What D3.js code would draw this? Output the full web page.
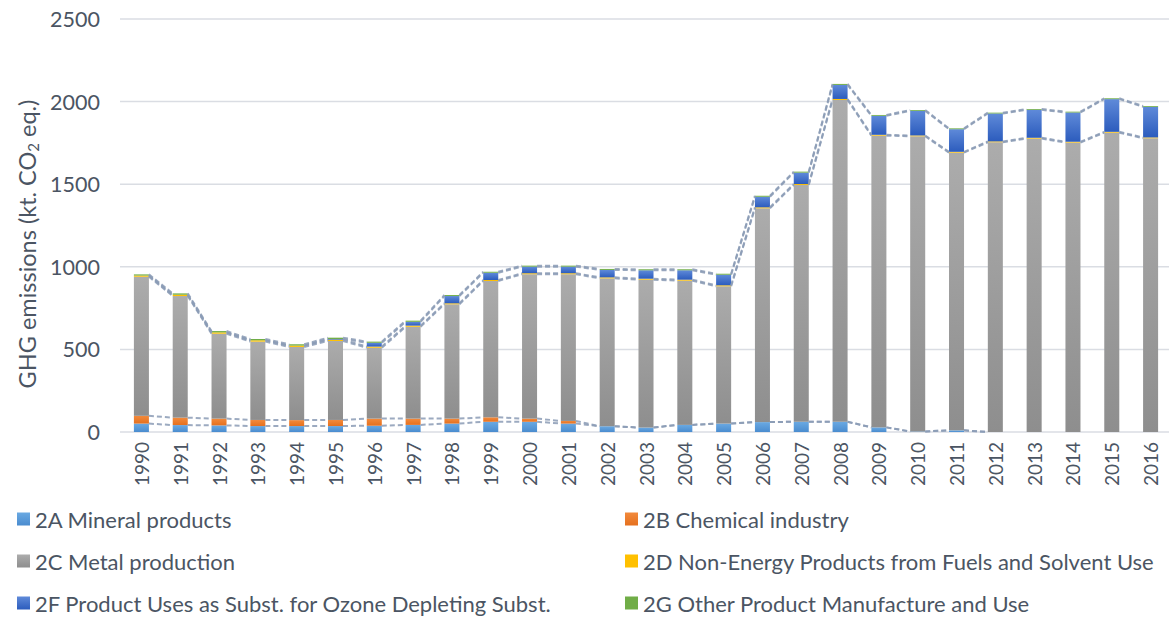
<!DOCTYPE html>
<html>
<head>
<meta charset="utf-8">
<script src="https://cdn.jsdelivr.net/npm/d3@7"></script>
<style>
  html, body { margin: 0; padding: 0; background: #fff; }
  svg { display: block; font-family: Lato, "Open Sans", sans-serif; }
</style>
</head>
<body>
<svg id="chart" width="1169" height="617"></svg>
<script>
const years = d3.range(1990, 2017).map(String);
const mineral   = [51,42,40,36,36,36,38,43,51,62,62,51,35,27,43,51,60,62,62,28,3,10,0,0,0,0,0];
const chemical  = [47,45,41,37,36,37,43,38,30,27,19,16,0,0,0,0,0,0,0,0,0,0,0,0,0,0,0];
const metal     = [842,736,514,474,443,478,429,556,692,825,874,888,895,895,873,831,1294,1433,1948,1766,1787,1681,1754,1776,1752,1812,1778];
const nonEnergy = [7,8,8,8,8,8,7,7,6,6,6,6,6,6,6,6,6,6,6,5,5,5,5,5,5,5,5];
const odsSubst  = [0,0,0,0,0,4,23,23,44,44,40,40,45,51,57,64,64,69,85,115,149,137,169,169,177,198,185];
const otherProd = [7,8,8,8,8,8,7,7,6,6,6,6,6,6,6,6,6,6,6,5,5,5,5,5,5,5,5];
const yTicks = [0, 500, 1000, 1500, 2000, 2500];

const series = [
  { key: "2A", name: "2A Mineral products", values: mineral, c0: "#6aa9e2", c1: "#4a8ccf" },
  { key: "2B", name: "2B Chemical industry", values: chemical, c0: "#f28a3c", c1: "#e5701e" },
  { key: "2C", name: "2C Metal production", values: metal, c0: "#acacac", c1: "#8e8e8e" },
  { key: "2D", name: "2D Non-Energy Products from Fuels and Solvent Use", values: nonEnergy, c0: "#ffc000", c1: "#ffc000" },
  { key: "2F", name: "2F Product Uses as Subst. for Ozone Depleting Subst.", values: odsSubst, c0: "#5f8ad9", c1: "#2c5cbd" },
  { key: "2G", name: "2G Other Product Manufacture and Use", values: otherProd, c0: "#70ad47", c1: "#70ad47" }
];

const svg = d3.select("#chart");
const textColor = "#4b5563";

const rows = years.map((y, i) => {
  const r = { year: y };
  series.forEach(s => { r[s.key] = s.values[i]; });
  return r;
});
const stacked = d3.stack().keys(series.map(s => s.key))(rows);

const x = d3.scaleBand().domain(years).range([122, 1170]).paddingInner(0.613).paddingOuter(0.3065);
const y = d3.scaleLinear().domain([0, 2500]).range([432, 19]);

// gradients
const defs = svg.append("defs");
series.forEach(s => {
  const g = defs.append("linearGradient").attr("id", "g" + s.key)
    .attr("x1", 0).attr("y1", 0).attr("x2", 0).attr("y2", 1);
  g.append("stop").attr("offset", "0%").attr("stop-color", s.c0);
  g.append("stop").attr("offset", "100%").attr("stop-color", s.c1);
});

// gridlines
svg.append("g").selectAll("line").data(yTicks).join("line")
  .attr("x1", 120).attr("x2", 1169)
  .attr("y1", d => y(d)).attr("y2", d => y(d))
  .attr("stroke", "#dadde3").attr("stroke-width", 1.5);

// y tick labels
svg.append("g").selectAll("text").data(yTicks).join("text")
  .attr("x", 100).attr("y", d => y(d))
  .attr("text-anchor", "end").attr("dominant-baseline", "central")
  .attr("font-size", 21.5).attr("fill", textColor)
  .text(d => d);

// y title
const yt = svg.append("text")
  .attr("transform", "translate(27,244) rotate(-90)")
  .attr("text-anchor", "middle").attr("dominant-baseline", "central")
  .attr("font-size", 23.5).attr("fill", textColor);
yt.append("tspan").text("GHG emissions (kt. CO");
yt.append("tspan").attr("font-size", 15).attr("dy", 6).text("2");
yt.append("tspan").attr("dy", -6).text(" eq.)");

// bars
const layers = svg.append("g").selectAll("g").data(stacked).join("g")
  .attr("fill", d => "url(#g" + d.key + ")");
layers.selectAll("rect").data(d => d).join("rect")
  .attr("x", d => x(d.data.year))
  .attr("width", x.bandwidth())
  .attr("y", d => y(d[1]))
  .attr("height", d => Math.max(0, y(d[0]) - y(d[1])));

// series lines (connect segment tops between neighbouring bars)
const lineG = svg.append("g");
stacked.forEach(layer => {
  for (let i = 0; i < layer.length - 1; i++) {
    if (layer[i][1] === 0 && layer[i + 1][1] === 0) continue;
    lineG.append("line")
      .attr("x1", x(years[i]) + x.bandwidth())
      .attr("x2", x(years[i + 1]))
      .attr("y1", y(layer[i][1]))
      .attr("y2", y(layer[i + 1][1]))
      .attr("stroke", "#8b9cb6").attr("stroke-width", 2)
      .attr("stroke-dasharray", "5,3").attr("opacity", 0.85);
  }
});

// x labels
svg.append("g").selectAll("text").data(years).join("text")
  .attr("transform", d => "translate(" + (x(d) + x.bandwidth() / 2) + ",442) rotate(-90)")
  .attr("text-anchor", "end").attr("dominant-baseline", "central")
  .attr("font-size", 19).attr("fill", textColor)
  .text(d => d);

// legend
const legendPos = [
  [17, 519], [625, 519],
  [17, 561], [625, 561],
  [17, 603], [625, 603]
];
const legendOrder = ["2A", "2B", "2C", "2D", "2F", "2G"];
const leg = svg.append("g").selectAll("g").data(legendOrder).join("g")
  .attr("transform", (d, i) => "translate(" + legendPos[i][0] + "," + legendPos[i][1] + ")");
leg.append("rect").attr("x", 0).attr("y", -6.5).attr("width", 13).attr("height", 13)
  .attr("fill", d => "url(#g" + d + ")");
leg.append("text").attr("x", 18).attr("y", 0).attr("dominant-baseline", "central")
  .attr("font-size", 22).attr("fill", textColor)
  .text(d => series.find(s => s.key === d).name);
</script>
</body>
</html>
